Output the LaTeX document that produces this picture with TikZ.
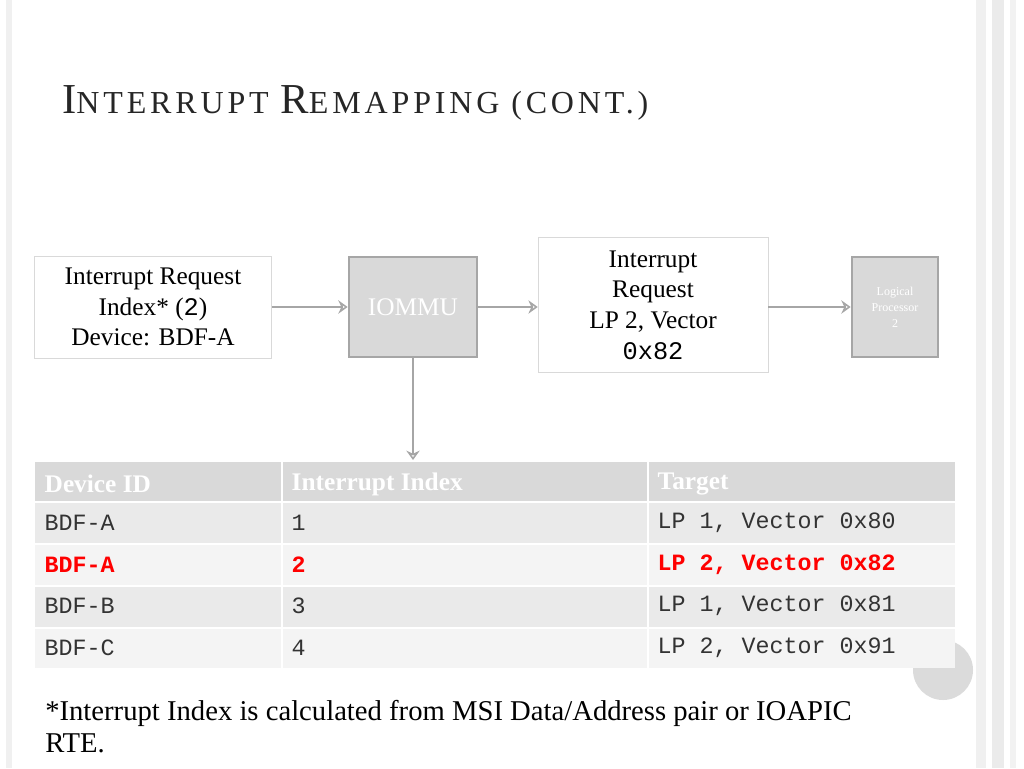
\documentclass[tikz,border=0pt]{standalone}
\usepackage{fontspec}
\setmainfont{Liberation Serif}
\setmonofont{Liberation Mono}
\usetikzlibrary{positioning}
\definecolor{boxgray}{HTML}{D9D9D9}
\definecolor{edgegray}{HTML}{A6A6A6}
\definecolor{rowa}{HTML}{EAEAEA}
\definecolor{rowb}{HTML}{F4F4F4}
\definecolor{hired}{HTML}{FF0000}
\newcommand{\bigc}[1]{{\fontsize{32}{36}\selectfont #1}}
\tikzset{
  plainbox/.style={draw=black!15, fill=white, align=center, inner sep=0pt, font=\fontsize{19}{23}\selectfont},
  graybox/.style={draw=edgegray, line width=2pt, fill=boxgray, text=white, align=center, inner sep=0pt},
  flow/.style={->, >={Stealth[length=7pt,width=10pt,open]}, draw=edgegray, line width=1.5pt},
  cell/.style={anchor=west, font=\ttfamily\fontsize{17.5}{20}\selectfont, text=black!80},
  hcell/.style={anchor=west, font=\bfseries\fontsize{19}{20}\selectfont, text=white},
  redcell/.style={anchor=west, font=\ttfamily\bfseries\fontsize{17.5}{20}\selectfont, text=hired}
}
\usetikzlibrary{arrows.meta}
\begin{document}
\begin{tikzpicture}[x=0.75pt, y=-0.75pt]
  \useasboundingbox (0,0) rectangle (1024,768);
  % slide frame
  \fill[black!6] (6,0) rectangle (12,768);
  \fill[black!6] (976,0) rectangle (986,768);
  \fill[black!8] (992,0) rectangle (1004,768);
  \fill[black!5] (1010,0) rectangle (1016,768);
  \fill[black!14] (943,670) circle (30);
  % title
  \node[anchor=base west, font=\fontsize{24}{28}\selectfont, text=black!85, inner sep=0pt] (title) at (62,113)
    {\addfontfeatures{LetterSpace=12}\bigc{I}NTERRUPT \bigc{R}EMAPPING (CONT.)};
  % boxes
  \node[plainbox, minimum width=177.75pt, minimum height=76.5pt] (req) at (153,307) {Interrupt Request\\Index* (\texttt{2})\\Device: BDF-A};
  \node[graybox, minimum width=96pt, minimum height=75pt, font=\fontsize{19}{23}\selectfont] (iommu) at (413,307) {IOMMU};
  \node[plainbox, minimum width=172.5pt, minimum height=101pt] (out) at (653,305) {Interrupt\\Request\\LP 2, Vector\\\texttt{0x82}};
  \node[graybox, minimum width=64.5pt, minimum height=75pt, font=\fontsize{9}{12}\selectfont] (lp) at (895,307) {Logical\\Processor\\2};
  \draw[flow] (req.east) -- (iommu.west);
  \draw[flow] (iommu.east) -- (out.west |- iommu.east);
  \draw[flow] (out.east |- lp.west) -- (lp.west);
  \coordinate (tabtop) at (413,460);
  \draw[flow] (iommu.south) -- (tabtop);
  % table
  \fill[boxgray] (35,462) rectangle (955,501);
  \fill[rowa] (35,503) rectangle (955,543);
  \fill[rowb] (35,545) rectangle (955,585);
  \fill[rowa] (35,587) rectangle (955,627);
  \fill[rowb] (35,629) rectangle (955,668);
  \draw[white, line width=1.5pt] (282,462) -- (282,668) (648,462) -- (648,668);
  \node[hcell] (h1) at (40,484) {Device ID};
  \node[hcell] (h2) at (287,484) {Interrupt Index};
  \node[hcell] (h3) at (653,484) {Target};
  \foreach \y/\d/\i/\t in {523/BDF-A/1/{LP 1, Vector 0x80}, 606/BDF-B/3/{LP 1, Vector 0x81}, 648/BDF-C/4/{LP 2, Vector 0x91}}{
    \node[cell] at (40,\y) {\d};
    \node[cell] at (287,\y) {\i};
    \node[cell] at (653,\y) {\t};
  }
  \node[redcell] (r1) at (40,565) {BDF-A};
  \node[redcell] (r2) at (287,565) {2};
  \node[redcell] (r3) at (653,565) {LP 2, Vector 0x82};
  % footnote
  \node[anchor=north west, align=left, inner sep=0pt, font=\fontsize{21.5}{24}\selectfont] (note) at (45,700) {*Interrupt Index is calculated from MSI Data/Address pair or IOAPIC\\RTE.};
\end{tikzpicture}
\end{document}
